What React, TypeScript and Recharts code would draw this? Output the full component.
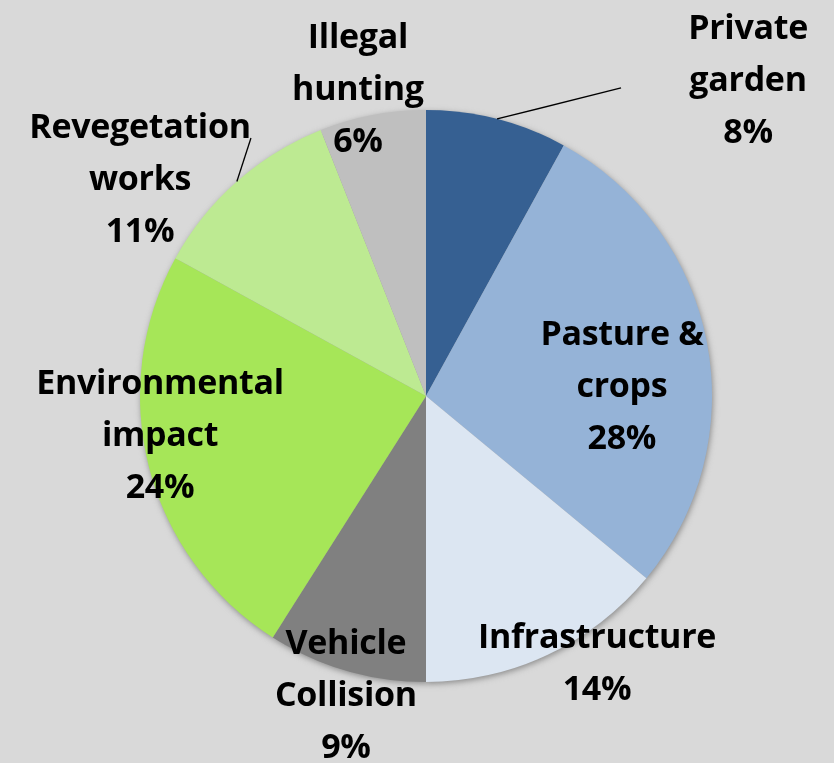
import React from 'react';
import { PieChart, Pie, Cell } from 'recharts';

const categories = [
  'Private garden',
  'Pasture & crops',
  'Infrastructure',
  'Vehicle Collision',
  'Environmental impact',
  'Revegetation works',
  'Illegal hunting',
];
const shares = [8, 28, 14, 9, 24, 11, 6];
const labelLines = [
  ['Private', 'garden'],
  ['Pasture &', 'crops'],
  ['Infrastructure'],
  ['Vehicle', 'Collision'],
  ['Environmental', 'impact'],
  ['Revegetation', 'works'],
  ['Illegal', 'hunting'],
];

const colors = ['#366092', '#95b3d7', '#dce6f2', '#808080', '#a6e658', '#bdea92', '#bfbfbf'];

// label centre and optional leader-line end, as fractions of the radius from the pie centre
const labelPos: { x: number; y: number; lead?: [number, number] }[] = [
  { x: 1.126, y: -1.112, lead: [0.682, -1.077] },
  { x: 0.685, y: -0.042 },
  { x: 0.598, y: 0.927 },
  { x: -0.28, y: 1.038 },
  { x: -0.93, y: 0.129 },
  { x: -1.0, y: -0.766, lead: [-0.612, -0.902] },
  { x: -0.238, y: -1.08 },
];

const data = categories.map((name, i) => ({ name, value: shares[i] }));

const RADIAN = Math.PI / 180;
const LINE_H = 52;

const renderLabel = (props: any) => {
  const { cx, cy, midAngle, outerRadius, index, value } = props;
  const pos = labelPos[index];
  const lines = [...labelLines[index], `${value}%`];
  const x = cx + pos.x * outerRadius;
  const y = cy + pos.y * outerRadius;
  const top = y - ((lines.length - 1) * LINE_H) / 2;
  let leader = null;
  if (pos.lead) {
    const sx = cx + outerRadius * Math.cos(-midAngle * RADIAN);
    const sy = cy + outerRadius * Math.sin(-midAngle * RADIAN);
    leader = (
      <line
        x1={sx}
        y1={sy}
        x2={cx + pos.lead[0] * outerRadius}
        y2={cy + pos.lead[1] * outerRadius}
        stroke="#000"
        strokeWidth={1.3}
      />
    );
  }
  return (
    <g key={`lbl-${index}`}>
      {leader}
      <text
        x={x}
        y={top}
        textAnchor="middle"
        dominantBaseline="central"
        fill="#000"
        fontFamily="'Open Sans', Lato, sans-serif"
        fontWeight={700}
        fontSize={34}
        letterSpacing={-0.3}
      >
        {lines.map((t, i) => (
          <tspan key={i} x={x} y={top + i * LINE_H}>
            {t}
          </tspan>
        ))}
      </text>
    </g>
  );
};

export default function App() {
  return (
    <div style={{ position: 'absolute', left: 0, top: 0, width: 834, height: 763, background: '#d9d9d9' }}>
      <style>{'.pie-shadow { filter: blur(2px); }'}</style>
      <PieChart width={834} height={763} margin={{ top: 0, right: 0, bottom: 0, left: 0 }}>
        <Pie
          className="pie-shadow"
          data={data}
          dataKey="value"
          cx={427}
          cy={398}
          outerRadius={286}
          startAngle={90}
          endAngle={-270}
          stroke="none"
          fill="#8c8c8c"
          isAnimationActive={false}
        />
        <Pie
          data={data}
          dataKey="value"
          nameKey="name"
          cx={426}
          cy={396}
          outerRadius={286}
          startAngle={90}
          endAngle={-270}
          stroke="none"
          label={renderLabel}
          labelLine={false}
          isAnimationActive={false}
        >
          {data.map((d, i) => (
            <Cell key={d.name} fill={colors[i]} />
          ))}
        </Pie>
      </PieChart>
    </div>
  );
}
